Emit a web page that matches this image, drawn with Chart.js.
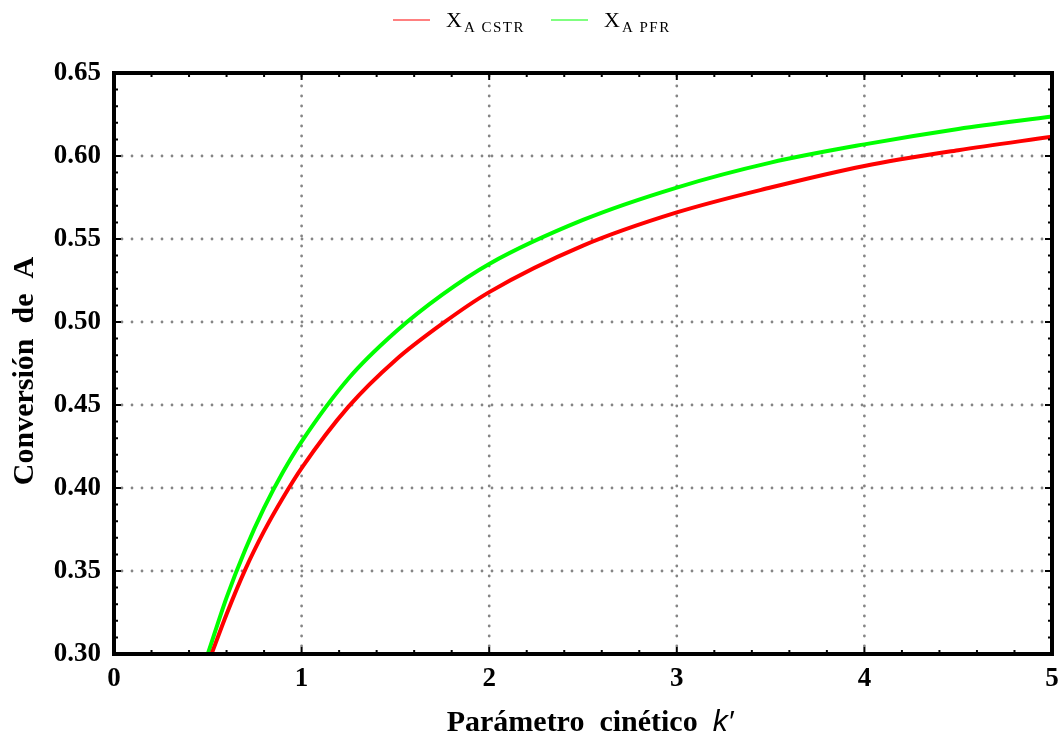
<!DOCTYPE html>
<html>
<head>
<meta charset="utf-8">
<script src="https://cdn.jsdelivr.net/npm/chart.js@4/dist/chart.umd.min.js"></script>
<style>
  html, body { margin: 0; padding: 0; background: #ffffff; }
  #wrap { width: 1059px; height: 736px; }
</style>
</head>
<body>
<div id="wrap"><canvas id="chart" width="1059" height="736"></canvas></div>
<script>
// Conversion of A versus the kinetic parameter k' for the two reactor types
const kCstr = [0.52, 0.6, 0.7, 0.8, 0.9, 1.0, 1.25, 1.5, 1.75, 2.0, 2.5, 3.0, 3.5, 4.0, 4.5, 5.0];
const xCstr = [0.300, 0.324, 0.351, 0.374, 0.394, 0.412, 0.449, 0.477, 0.499, 0.518, 0.546, 0.566, 0.581, 0.594, 0.6035, 0.6116];

const kPfr = [0.5, 0.6, 0.7, 0.8, 0.9, 1.0, 1.25, 1.5, 1.75, 2.0, 2.5, 3.0, 3.5, 4.0, 4.5, 5.0];
const xPfr = [0.300, 0.334, 0.363, 0.388, 0.4095, 0.428, 0.466, 0.494, 0.5165, 0.535, 0.5615, 0.581, 0.596, 0.607, 0.6163, 0.6238];

const seriesNames = ['CSTR', 'PFR'];
const xTickValues = [0, 1, 2, 3, 4, 5];
const yTickValues = [0.30, 0.35, 0.40, 0.45, 0.50, 0.55, 0.60, 0.65];
const yTitle = 'Conversión  de  A';
const xTitleMain = 'Parámetro  cinético  ';
const xTitleSymbol = 'k′';

const SERIF = '"Liberation Serif", "Times New Roman", serif';
const SANS = '"Liberation Sans", Arial, sans-serif';

const toPoints = (xs, ys) => xs.map((x, i) => ({ x: x, y: ys[i] }));

// Dotted grid, inward ticks, frame, legend and axis titles
const framePlugin = {
  id: 'frame',
  beforeDatasetsDraw(chart) {
    const { ctx, chartArea: a, scales: { x, y } } = chart;
    ctx.save();
    ctx.strokeStyle = '#858585';
    ctx.lineWidth = 2.8;
    ctx.lineCap = 'round';
    ctx.setLineDash([0, 10]);
    xTickValues.forEach(v => {
      const px = x.getPixelForValue(v);
      if (px <= a.left + 2 || px >= a.right - 2) return;
      ctx.beginPath();
      ctx.moveTo(px, a.bottom - 8);
      ctx.lineTo(px, a.top + 2);
      ctx.stroke();
    });
    yTickValues.forEach(v => {
      const py = y.getPixelForValue(v);
      if (py <= a.top + 2 || py >= a.bottom - 2) return;
      ctx.beginPath();
      ctx.moveTo(a.left + 8, py);
      ctx.lineTo(a.right - 2, py);
      ctx.stroke();
    });
    ctx.restore();
  },
  afterDatasetsDraw(chart) {
    const { ctx, chartArea: a, scales: { x, y } } = chart;
    ctx.save();
    ctx.strokeStyle = '#000';
    // tick marks pointing into the plot on all four sides
    ctx.lineWidth = 2;
    const xMin = x.min, xMax = x.max, yMin = y.min, yMax = y.max;
    for (let i = 0; i <= Math.round((xMax - xMin) / 0.2); i++) {
      const v = xMin + i * 0.2;
      const major = i % 5 === 0;
      const len = major ? 7 : 4;
      const px = x.getPixelForValue(v);
      ctx.beginPath();
      ctx.moveTo(px, a.bottom); ctx.lineTo(px, a.bottom - len);
      ctx.moveTo(px, a.top); ctx.lineTo(px, a.top + len);
      ctx.stroke();
    }
    for (let i = 0; i <= Math.round((yMax - yMin) / 0.01); i++) {
      const v = yMin + i * 0.01;
      const major = i % 5 === 0;
      const len = major ? 7 : 4;
      const py = y.getPixelForValue(v);
      ctx.beginPath();
      ctx.moveTo(a.left, py); ctx.lineTo(a.left + len, py);
      ctx.moveTo(a.right, py); ctx.lineTo(a.right - len, py);
      ctx.stroke();
    }
    // frame
    ctx.lineWidth = 4;
    ctx.strokeRect(a.left, a.top, a.right - a.left, a.bottom - a.top);

    // y-axis title
    ctx.fillStyle = '#000';
    ctx.font = 'bold 30px ' + SERIF;
    ctx.textAlign = 'center';
    ctx.textBaseline = 'alphabetic';
    ctx.save();
    ctx.translate(33, 371);
    ctx.rotate(-Math.PI / 2);
    ctx.fillText(yTitle, 0, 0);
    ctx.restore();

    // x-axis title: bold serif words followed by the italic symbol
    ctx.textAlign = 'left';
    ctx.font = 'bold 30px ' + SERIF;
    const w1 = ctx.measureText(xTitleMain).width;
    ctx.font = 'italic 30px ' + SANS;
    const w2 = ctx.measureText(xTitleSymbol).width;
    const startX = 590 - (w1 + w2) / 2;
    ctx.font = 'bold 30px ' + SERIF;
    ctx.fillText(xTitleMain, startX, 731);
    ctx.font = 'italic 30px ' + SANS;
    ctx.fillText(xTitleSymbol, startX + w1, 731);

    // legend: X with subscripted series name
    const items = [
      { x0: 393, color: '#ff8080', ds: chart.data.datasets[0] },
      { x0: 551, color: '#80ff80', ds: chart.data.datasets[1] }
    ];
    items.forEach(it => {
      ctx.strokeStyle = it.color;
      ctx.lineWidth = 2;
      ctx.beginPath();
      ctx.moveTo(it.x0, 20);
      ctx.lineTo(it.x0 + 37, 20);
      ctx.stroke();
      ctx.fillStyle = '#000';
      ctx.font = '22px ' + SERIF;
      ctx.letterSpacing = '0px';
      const tx = it.x0 + 53;
      ctx.fillText('X', tx, 27);
      const wx = ctx.measureText('X').width;
      ctx.font = '15px ' + SERIF;
      ctx.letterSpacing = '1.5px';
      ctx.fillText('A ' + it.ds.label, tx + wx + 2, 32);
      ctx.letterSpacing = '0px';
    });
    ctx.restore();
  }
};

new Chart(document.getElementById('chart'), {
  type: 'line',
  data: {
    datasets: [
      {
        label: seriesNames[0],
        data: toPoints(kCstr, xCstr),
        borderColor: '#ff0000',
        borderWidth: 4,
        pointRadius: 0,
        cubicInterpolationMode: 'monotone',
        fill: false
      },
      {
        label: seriesNames[1],
        data: toPoints(kPfr, xPfr),
        borderColor: '#00ff00',
        borderWidth: 4,
        pointRadius: 0,
        cubicInterpolationMode: 'monotone',
        fill: false
      }
    ]
  },
  options: {
    responsive: false,
    animation: false,
    layout: { padding: { left: 0, right: 7, top: 73, bottom: 42 } },
    plugins: {
      legend: { display: false },
      tooltip: { enabled: false }
    },
    scales: {
      x: {
        type: 'linear',
        min: 0,
        max: 5,
        afterFit: s => { s.height = 40; s.paddingLeft = 0; s.paddingRight = 0; },
        afterBuildTicks: s => { s.ticks = xTickValues.map(v => ({ value: v })); },
        grid: { display: false, drawTicks: false, tickLength: 0 },
        border: { display: false },
        ticks: {
          padding: 9,
          color: '#000',
          font: { family: SERIF, size: 27, weight: 'bold' },
          callback: v => String(v)
        }
      },
      y: {
        type: 'linear',
        min: 0.30,
        max: 0.65,
        afterFit: s => { s.width = 114; s.paddingTop = 0; s.paddingBottom = 0; },
        afterBuildTicks: s => { s.ticks = yTickValues.map(v => ({ value: v })); },
        grid: { display: false, drawTicks: false, tickLength: 0 },
        border: { display: false },
        ticks: {
          padding: 13,
          color: '#000',
          font: { family: SERIF, size: 27, weight: 'bold' },
          callback: v => Number(v).toFixed(2)
        }
      }
    }
  },
  plugins: [framePlugin]
});
</script>
</body>
</html>
